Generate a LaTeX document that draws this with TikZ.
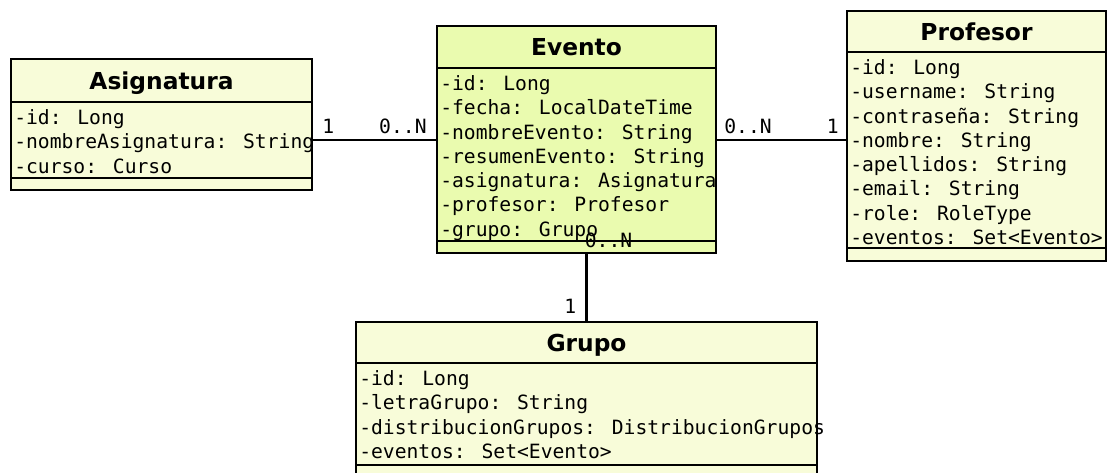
\documentclass[tikz,border=0pt]{standalone}
\usepackage{fontspec}
\usepackage{tikz}
\usepackage{xcolor}
\usetikzlibrary{positioning}

\newfontfamily\monofam{DejaVu Sans Mono}
\newfontfamily\sansfam{DejaVu Sans}
\newcommand{\attrfont}{\monofam\fontsize{14.75pt}{18.2pt}\selectfont}
\newcommand{\headfont}{\sansfam\bfseries\fontsize{17.5pt}{21pt}\selectfont}

\definecolor{clsfill}{RGB}{248,252,217}
\definecolor{evfill}{RGB}{234,251,175}

\begin{document}
\begin{tikzpicture}[
  x=0.75pt, y=-0.75pt,
  cls/.style={draw, line width=2.1pt, fill=clsfill, inner sep=0pt,
              outer sep=0pt, minimum width=#1*0.75pt},
  head/.style={font=\headfont, anchor=north west, text depth=0pt},
  attrs/.style={font=\attrfont, align=left, inner sep=0pt, anchor=north west},
  mult/.style={font=\attrfont, inner sep=0pt},
  conn/.style={line width=2.1pt},
]
\useasboundingbox (0,0) rectangle (1110,473);

% Asignatura
\node[cls=301, head, minimum height=43*0.75pt] (asig) at (11,59) {Asignatura};
\node[cls=301, minimum height=76*0.75pt, below=0pt of asig] (asigB) {};
\node[cls=301, minimum height=12*0.75pt, below=0pt of asigB] (asigO) {};
\node[attrs] (asigT) at ([shift={(3,7.4)}]asigB.north west)
  {-id: Long\\-nombreAsignatura: String\\-curso: Curso};

% Evento
\node[cls=279, fill=evfill, head, minimum height=42*0.75pt] (ev) at (437,26) {Evento};
\node[cls=279, fill=evfill, minimum height=173*0.75pt, below=0pt of ev] (evB) {};
\node[cls=279, fill=evfill, minimum height=12*0.75pt, below=0pt of evB] (evO) {};
\node[attrs] (evT) at ([shift={(3,7.4)}]evB.north west)
  {-id: Long\\-fecha: LocalDateTime\\-nombreEvento: String\\-resumenEvento: String\\
   -asignatura: Asignatura\\-profesor: Profesor\\-grupo: Grupo};

% Profesor
\node[cls=259, head, minimum height=41*0.75pt] (prof) at (847,11) {Profesor};
\node[cls=259, minimum height=196*0.75pt, below=0pt of prof] (profB) {};
\node[cls=259, minimum height=13*0.75pt, below=0pt of profB] (profO) {};
\node[attrs] (profT) at ([shift={(3,7.4)}]profB.north west)
  {-id: Long\\-username: String\\-contraseña: String\\-nombre: String\\
   -apellidos: String\\-email: String\\-role: RoleType\\-eventos: Set<Evento>};

% Grupo
\node[cls=461, head, minimum height=41*0.75pt] (gr) at (356,322) {Grupo};
\node[cls=461, minimum height=102*0.75pt, below=0pt of gr] (grB) {};
\node[cls=461, minimum height=15*0.75pt, below=0pt of grB] (grO) {};
\node[attrs] (grT) at ([shift={(3,7.4)}]grB.north west)
  {-id: Long\\-letraGrupo: String\\-distribucionGrupos: DistribucionGrupos\\
   -eventos: Set<Evento>};

% associations
\draw[conn] (asigB.east) --
  node[mult, pos=0, anchor=south west, xshift=6.75pt, yshift=3.75pt] (m1) {1}
  node[mult, pos=1, anchor=south east, xshift=-6.75pt, yshift=3.75pt] (m2) {0..N}
  (asigB.east -| evB.west);
\draw[conn] (evB.east |- asigB.east) --
  node[mult, pos=0, anchor=south west, xshift=5.25pt, yshift=3.75pt] (m3) {0..N}
  node[mult, pos=1, anchor=south east, xshift=-5.25pt, yshift=3.75pt] (m4) {1}
  (profB.west |- asigB.east);
\draw[conn] (gr.north |- evO.south) --
  node[mult, pos=0, anchor=south west, xshift=-2.25pt, yshift=3pt] (m5) {0..N}
  node[mult, pos=1, anchor=south east, xshift=-6.75pt, yshift=5.25pt] (m6) {1}
  (gr.north);
\end{tikzpicture}
\end{document}
